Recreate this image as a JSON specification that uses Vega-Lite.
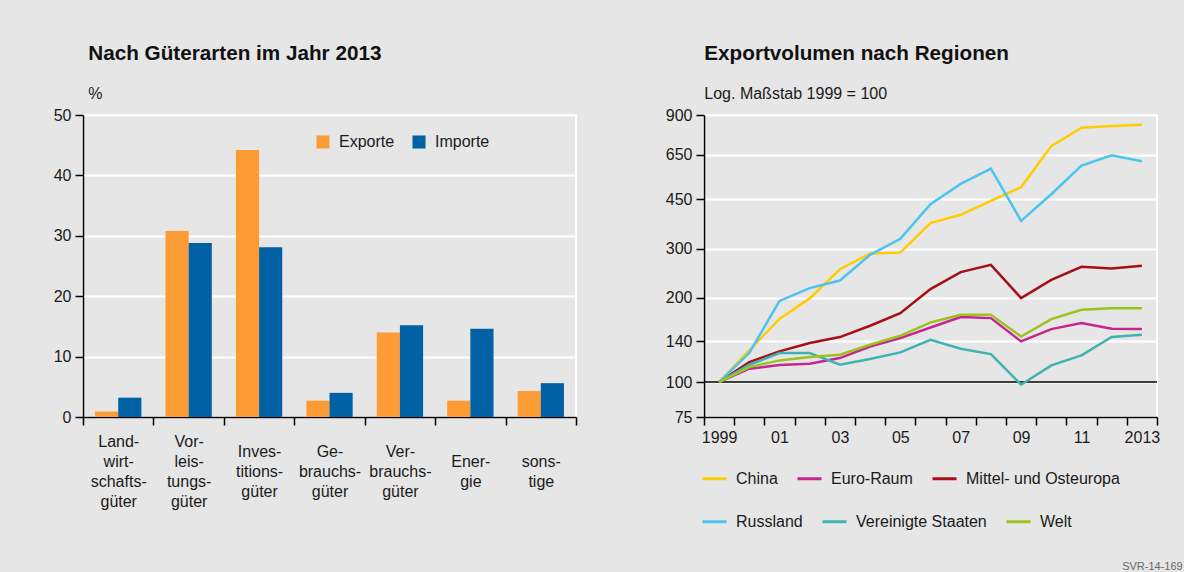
{
  "$schema": "https://vega.github.io/schema/vega-lite/v6.json",
  "background": "#e6e6e6",
  "padding": {"left": 52, "top": 42, "right": 22, "bottom": 0},
  "config": {
    "font": "Liberation Sans",
    "view": {"stroke": "white", "strokeWidth": 2},
    "axis": {
      "labelFontSize": 16,
      "labelColor": "#1a1a1a",
      "domainColor": "#000000",
      "domainWidth": 1.5,
      "tickColor": "#000000",
      "tickWidth": 1.5,
      "tickSize": 8,
      "gridColor": "#ffffff",
      "gridWidth": 2,
      "title": null
    },
    "legend": {"labelFontSize": 16, "labelColor": "#1a1a1a"},
    "title": {"anchor": "start", "fontSize": 20.7, "fontWeight": "bold", "color": "#111111", "subtitleFontSize": 16, "subtitleColor": "#1a1a1a", "subtitlePadding": 21, "offset": 4}
  },
  "title": {"text": "SVR-14-169", "orient": "bottom", "anchor": "end", "fontSize": 11, "fontWeight": "normal", "color": "#666666", "offset": 30, "dx": 22},
  "resolve": {"scale": {"color": "independent"}, "legend": {"color": "independent"}},
  "datasets": {
    "bars": [
      {"kategorie": "Land-|wirt-|schafts-|güter", "art": "Exporte", "wert": 0.9},
      {"kategorie": "Land-|wirt-|schafts-|güter", "art": "Importe", "wert": 3.2},
      {"kategorie": "Vor-|leis-|tungs-|güter", "art": "Exporte", "wert": 30.8},
      {"kategorie": "Vor-|leis-|tungs-|güter", "art": "Importe", "wert": 28.8},
      {"kategorie": "Inves-|titions-|güter", "art": "Exporte", "wert": 44.2},
      {"kategorie": "Inves-|titions-|güter", "art": "Importe", "wert": 28.1},
      {"kategorie": "Ge-|brauchs-|güter", "art": "Exporte", "wert": 2.7},
      {"kategorie": "Ge-|brauchs-|güter", "art": "Importe", "wert": 4.0},
      {"kategorie": "Ver-|brauchs-|güter", "art": "Exporte", "wert": 14.0},
      {"kategorie": "Ver-|brauchs-|güter", "art": "Importe", "wert": 15.2},
      {"kategorie": "Ener-|gie", "art": "Exporte", "wert": 2.7},
      {"kategorie": "Ener-|gie", "art": "Importe", "wert": 14.6},
      {"kategorie": "sons-|tige", "art": "Exporte", "wert": 4.3},
      {"kategorie": "sons-|tige", "art": "Importe", "wert": 5.6}
    ],
    "lines": [
      {"region": "China", "jahr": "1999", "wert": 100},
      {"region": "China", "jahr": "2000", "wert": 130},
      {"region": "China", "jahr": "2001", "wert": 168},
      {"region": "China", "jahr": "2002", "wert": 199},
      {"region": "China", "jahr": "2003", "wert": 253},
      {"region": "China", "jahr": "2004", "wert": 288},
      {"region": "China", "jahr": "2005", "wert": 290},
      {"region": "China", "jahr": "2006", "wert": 370},
      {"region": "China", "jahr": "2007", "wert": 396},
      {"region": "China", "jahr": "2008", "wert": 444},
      {"region": "China", "jahr": "2009", "wert": 497},
      {"region": "China", "jahr": "2010", "wert": 697},
      {"region": "China", "jahr": "2011", "wert": 811},
      {"region": "China", "jahr": "2012", "wert": 822},
      {"region": "China", "jahr": "2013", "wert": 831},
      {"region": "Euro-Raum", "jahr": "1999", "wert": 100},
      {"region": "Euro-Raum", "jahr": "2000", "wert": 111.6},
      {"region": "Euro-Raum", "jahr": "2001", "wert": 115},
      {"region": "Euro-Raum", "jahr": "2002", "wert": 116.3},
      {"region": "Euro-Raum", "jahr": "2003", "wert": 121.8},
      {"region": "Euro-Raum", "jahr": "2004", "wert": 134},
      {"region": "Euro-Raum", "jahr": "2005", "wert": 143.6},
      {"region": "Euro-Raum", "jahr": "2006", "wert": 156.7},
      {"region": "Euro-Raum", "jahr": "2007", "wert": 170.6},
      {"region": "Euro-Raum", "jahr": "2008", "wert": 169.2},
      {"region": "Euro-Raum", "jahr": "2009", "wert": 139.7},
      {"region": "Euro-Raum", "jahr": "2010", "wert": 154.6},
      {"region": "Euro-Raum", "jahr": "2011", "wert": 162.4},
      {"region": "Euro-Raum", "jahr": "2012", "wert": 155},
      {"region": "Euro-Raum", "jahr": "2013", "wert": 154.6},
      {"region": "Mittel- und Osteuropa", "jahr": "1999", "wert": 100},
      {"region": "Mittel- und Osteuropa", "jahr": "2000", "wert": 117.9},
      {"region": "Mittel- und Osteuropa", "jahr": "2001", "wert": 128.7},
      {"region": "Mittel- und Osteuropa", "jahr": "2002", "wert": 137.8},
      {"region": "Mittel- und Osteuropa", "jahr": "2003", "wert": 144.8},
      {"region": "Mittel- und Osteuropa", "jahr": "2004", "wert": 158.9},
      {"region": "Mittel- und Osteuropa", "jahr": "2005", "wert": 176.3},
      {"region": "Mittel- und Osteuropa", "jahr": "2006", "wert": 214.8},
      {"region": "Mittel- und Osteuropa", "jahr": "2007", "wert": 247},
      {"region": "Mittel- und Osteuropa", "jahr": "2008", "wert": 262.3},
      {"region": "Mittel- und Osteuropa", "jahr": "2009", "wert": 199.5},
      {"region": "Mittel- und Osteuropa", "jahr": "2010", "wert": 231.9},
      {"region": "Mittel- und Osteuropa", "jahr": "2011", "wert": 258},
      {"region": "Mittel- und Osteuropa", "jahr": "2012", "wert": 254.6},
      {"region": "Mittel- und Osteuropa", "jahr": "2013", "wert": 260.2},
      {"region": "Russland", "jahr": "1999", "wert": 100},
      {"region": "Russland", "jahr": "2000", "wert": 127},
      {"region": "Russland", "jahr": "2001", "wert": 195},
      {"region": "Russland", "jahr": "2002", "wert": 216.6},
      {"region": "Russland", "jahr": "2003", "wert": 230.6},
      {"region": "Russland", "jahr": "2004", "wert": 284.8},
      {"region": "Russland", "jahr": "2005", "wert": 324.8},
      {"region": "Russland", "jahr": "2006", "wert": 431.9},
      {"region": "Russland", "jahr": "2007", "wert": 510.5},
      {"region": "Russland", "jahr": "2008", "wert": 579},
      {"region": "Russland", "jahr": "2009", "wert": 376.6},
      {"region": "Russland", "jahr": "2010", "wert": 468.8},
      {"region": "Russland", "jahr": "2011", "wert": 593.4},
      {"region": "Russland", "jahr": "2012", "wert": 646},
      {"region": "Russland", "jahr": "2013", "wert": 614.7},
      {"region": "Vereinigte Staaten", "jahr": "1999", "wert": 100},
      {"region": "Vereinigte Staaten", "jahr": "2000", "wert": 115.3},
      {"region": "Vereinigte Staaten", "jahr": "2001", "wert": 126.9},
      {"region": "Vereinigte Staaten", "jahr": "2002", "wert": 126.9},
      {"region": "Vereinigte Staaten", "jahr": "2003", "wert": 115.3},
      {"region": "Vereinigte Staaten", "jahr": "2004", "wert": 120.8},
      {"region": "Vereinigte Staaten", "jahr": "2005", "wert": 127.6},
      {"region": "Vereinigte Staaten", "jahr": "2006", "wert": 141.6},
      {"region": "Vereinigte Staaten", "jahr": "2007", "wert": 131.5},
      {"region": "Vereinigte Staaten", "jahr": "2008", "wert": 125.9},
      {"region": "Vereinigte Staaten", "jahr": "2009", "wert": 97.8},
      {"region": "Vereinigte Staaten", "jahr": "2010", "wert": 114.7},
      {"region": "Vereinigte Staaten", "jahr": "2011", "wert": 124.5},
      {"region": "Vereinigte Staaten", "jahr": "2012", "wert": 144.8},
      {"region": "Vereinigte Staaten", "jahr": "2013", "wert": 147.6},
      {"region": "Welt", "jahr": "1999", "wert": 100},
      {"region": "Welt", "jahr": "2000", "wert": 113.1},
      {"region": "Welt", "jahr": "2001", "wert": 119.5},
      {"region": "Welt", "jahr": "2002", "wert": 122.8},
      {"region": "Welt", "jahr": "2003", "wert": 125.2},
      {"region": "Welt", "jahr": "2004", "wert": 135.9},
      {"region": "Welt", "jahr": "2005", "wert": 146.3},
      {"region": "Welt", "jahr": "2006", "wert": 163.3},
      {"region": "Welt", "jahr": "2007", "wert": 173.9},
      {"region": "Welt", "jahr": "2008", "wert": 173.9},
      {"region": "Welt", "jahr": "2009", "wert": 145.5},
      {"region": "Welt", "jahr": "2010", "wert": 167.8},
      {"region": "Welt", "jahr": "2011", "wert": 181.2},
      {"region": "Welt", "jahr": "2012", "wert": 183.7},
      {"region": "Welt", "jahr": "2013", "wert": 183.7}
    ],
    "ref": [{"wert": 100}]
  },
  "spacing": 86,
  "hconcat": [
    {
      "width": 493,
      "height": 302,
      "title": {"text": "Nach Güterarten im Jahr 2013", "subtitle": "%", "dx": 35},
      "data": {"name": "bars"},
      "mark": {"type": "bar"},
      "encoding": {
        "x": {
          "field": "kategorie", "type": "nominal", "sort": null,
          "scale": {"paddingInner": 0, "paddingOuter": 0},
          "axis": {"labelAngle": 0, "labelExpr": "length(split(datum.label, '|')) == 4 ? [split(datum.label, '|')[0], '\u200b', split(datum.label, '|')[1], '\u200b', split(datum.label, '|')[2], '\u200b', split(datum.label, '|')[3]] : (length(split(datum.label, '|')) == 3 ? ['\u200b', split(datum.label, '|')[0], '\u200b', split(datum.label, '|')[1], '\u200b', split(datum.label, '|')[2]] : ['\u200b', '\u200b', split(datum.label, '|')[0], '\u200b', split(datum.label, '|')[1]])", "labelLineHeight": 10, "labelBaseline": "middle", "labelPadding": 16, "tickBand": "extent", "grid": false, "labelLimit": 0}
        },
        "xOffset": {"field": "art", "type": "nominal", "sort": ["Exporte", "Importe"], "scale": {"paddingInner": 0, "paddingOuter": 0.52}},
        "y": {"field": "wert", "type": "quantitative", "scale": {"domain": [0, 50]}, "axis": {"values": [0, 10, 20, 30, 40, 50], "grid": true, "labelPadding": 4}},
        "color": {
          "field": "art", "type": "nominal",
          "scale": {"domain": ["Exporte", "Importe"], "range": ["#fd9b35", "#0061a4"]},
          "legend": {"orient": "none", "legendX": 232, "legendY": 19, "direction": "horizontal", "title": null, "symbolType": "square", "symbolSize": 170, "symbolStrokeWidth": 0, "columnPadding": 16, "labelOffset": 8}
        }
      }
    },
    {
      "width": 453,
      "height": 302,
      "title": {"text": "Exportvolumen nach Regionen", "subtitle": "Log. Maßstab 1999 = 100", "dx": 39},
      "data": {"name": "lines"},
      "resolve": {"scale": {"color": "independent"}, "legend": {"color": "independent"}},
      "layer": [
        {
          "data": {"name": "ref"},
          "mark": {"type": "rule", "color": "#000000", "strokeWidth": 1.5},
          "encoding": {"y": {"field": "wert", "type": "quantitative", "scale": {"type": "log", "domain": [75, 900]}}}
        },
        {
          "transform": [{"filter": {"field": "region", "oneOf": ["China", "Euro-Raum", "Mittel- und Osteuropa"]}}],
          "mark": {"type": "line", "strokeWidth": 2.5},
          "encoding": {
            "x": {
              "field": "jahr", "type": "ordinal", "bandPosition": 0.5,
              "scale": {"type": "band", "paddingInner": 0, "paddingOuter": 0},
              "axis": {"labelAngle": 0, "tickBand": "extent", "grid": false, "labelPadding": 4, "labelExpr": "datum.value == '1999' || datum.value == '2013' ? datum.value : (toNumber(datum.value) % 2 == 1 ? substring(datum.value, 2) : '')"}
            },
            "y": {"field": "wert", "type": "quantitative", "scale": {"type": "log", "domain": [75, 900]}, "axis": {"values": [75, 100, 140, 200, 300, 450, 650, 900], "grid": true, "labelPadding": 4}},
            "color": {
              "field": "region", "type": "nominal",
              "scale": {"domain": ["China", "Euro-Raum", "Mittel- und Osteuropa"], "range": ["#ffcc00", "#c4258f", "#a50f15"]},
              "legend": {"orient": "none", "legendX": -3, "legendY": 350, "direction": "horizontal", "title": null, "symbolType": "stroke", "symbolSize": 576, "symbolStrokeWidth": 3, "columnPadding": 13, "labelOffset": 8}
            }
          }
        },
        {
          "transform": [{"filter": {"field": "region", "oneOf": ["Russland", "Vereinigte Staaten", "Welt"]}}],
          "mark": {"type": "line", "strokeWidth": 2.5},
          "encoding": {
            "x": {"field": "jahr", "type": "ordinal", "bandPosition": 0.5, "scale": {"type": "band", "paddingInner": 0, "paddingOuter": 0}},
            "y": {"field": "wert", "type": "quantitative", "scale": {"type": "log", "domain": [75, 900]}},
            "color": {
              "field": "region", "type": "nominal",
              "scale": {"domain": ["Russland", "Vereinigte Staaten", "Welt"], "range": ["#4cc3f0", "#40b3b0", "#9cc31e"]},
              "legend": {"orient": "none", "legendX": -3, "legendY": 393, "direction": "horizontal", "title": null, "symbolType": "stroke", "symbolSize": 576, "symbolStrokeWidth": 3, "columnPadding": 13, "labelOffset": 8}
            }
          }
        }
      ]
    }
  ]
}
